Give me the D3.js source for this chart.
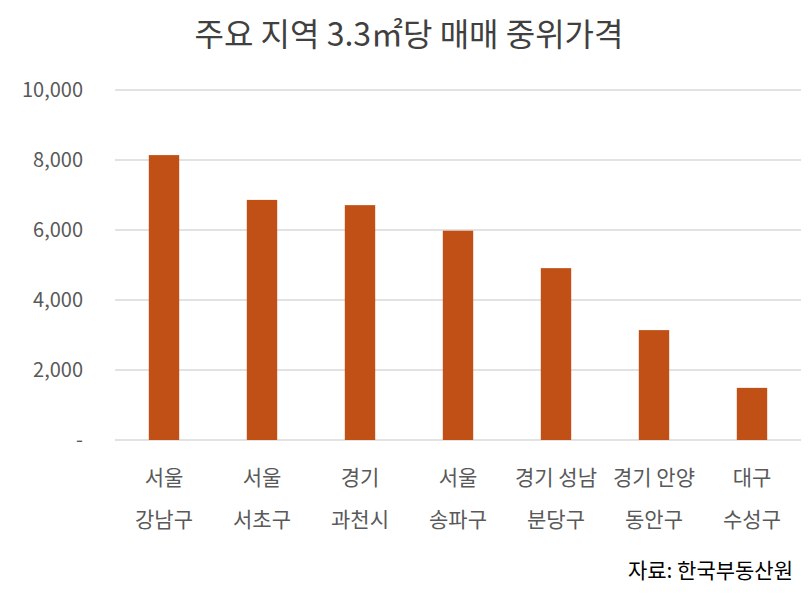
<!DOCTYPE html>
<html><head><meta charset="utf-8">
<script src="https://cdn.jsdelivr.net/npm/d3@7"></script>
<style>body{margin:0;background:#fff}svg{display:block}text{font-family:"Noto Sans CJK KR","Noto Sans",sans-serif}</style>
</head><body><svg id="c" width="812" height="595"></svg>
<script>
const regions = ["서울|강남구","서울|서초구","경기|과천시","서울|송파구","경기 성남|분당구","경기 안양|동안구","대구|수성구"];
const prices = [8140, 6860, 6710, 5980, 4910, 3140, 1490];
const yTicks = [0, 2000, 4000, 6000, 8000, 10000];
const yTickLabels = ["-", "2,000", "4,000", "6,000", "8,000", "10,000"];

const svg = d3.select("#c");
const x = d3.scaleBand().domain(regions).range([115, 801]).paddingInner(0.69).paddingOuter(0.345);
const y = d3.scaleLinear().domain([0, 10000]).range([440, 90]);

svg.append("text").attr("x", 409).attr("y", 46).attr("text-anchor", "middle")
  .attr("font-size", 32).attr("fill", "#404040").text("주요 지역 3.3㎡당 매매 중위가격");

const grid = svg.append("g");
grid.selectAll("line").data(yTicks).join("line")
  .attr("x1", 115).attr("x2", 801).attr("y1", d => y(d)).attr("y2", d => y(d))
  .attr("stroke", "#d9d9d9").attr("stroke-width", 1.5);

const yAxis = d3.axisLeft(y).tickValues(yTicks).tickSize(0).tickPadding(0)
  .tickFormat((d, i) => yTickLabels[i]);
const ya = svg.append("g").attr("transform", "translate(83,0)").call(yAxis);
ya.select(".domain").remove();
ya.selectAll("text").attr("font-size", 20).attr("fill", "#595959").attr("font-family", '"Noto Sans CJK KR",sans-serif');

svg.append("g").selectAll("rect").data(prices).join("rect")
  .attr("x", (d, i) => x(regions[i])).attr("width", x.bandwidth())
  .attr("y", d => y(d)).attr("height", d => y(0) - y(d)).attr("fill", "#C05016");

const xa = svg.append("g").attr("transform", "translate(0,440)")
  .call(d3.axisBottom(x).tickSize(0).tickFormat(""));
xa.select(".domain").remove();
xa.selectAll(".tick").each(function(d) {
  const parts = d.split("|");
  const g = d3.select(this);
  parts.forEach((p, k) => {
    g.append("text").attr("y", 45 + k * 42).attr("text-anchor", "middle")
      .attr("font-size", 21).attr("fill", "#595959").text(p);
  });
});

svg.append("text").attr("x", 793).attr("y", 578).attr("text-anchor", "end")
  .attr("font-size", 21).attr("fill", "#000").text("자료: 한국부동산원");
</script></body></html>
